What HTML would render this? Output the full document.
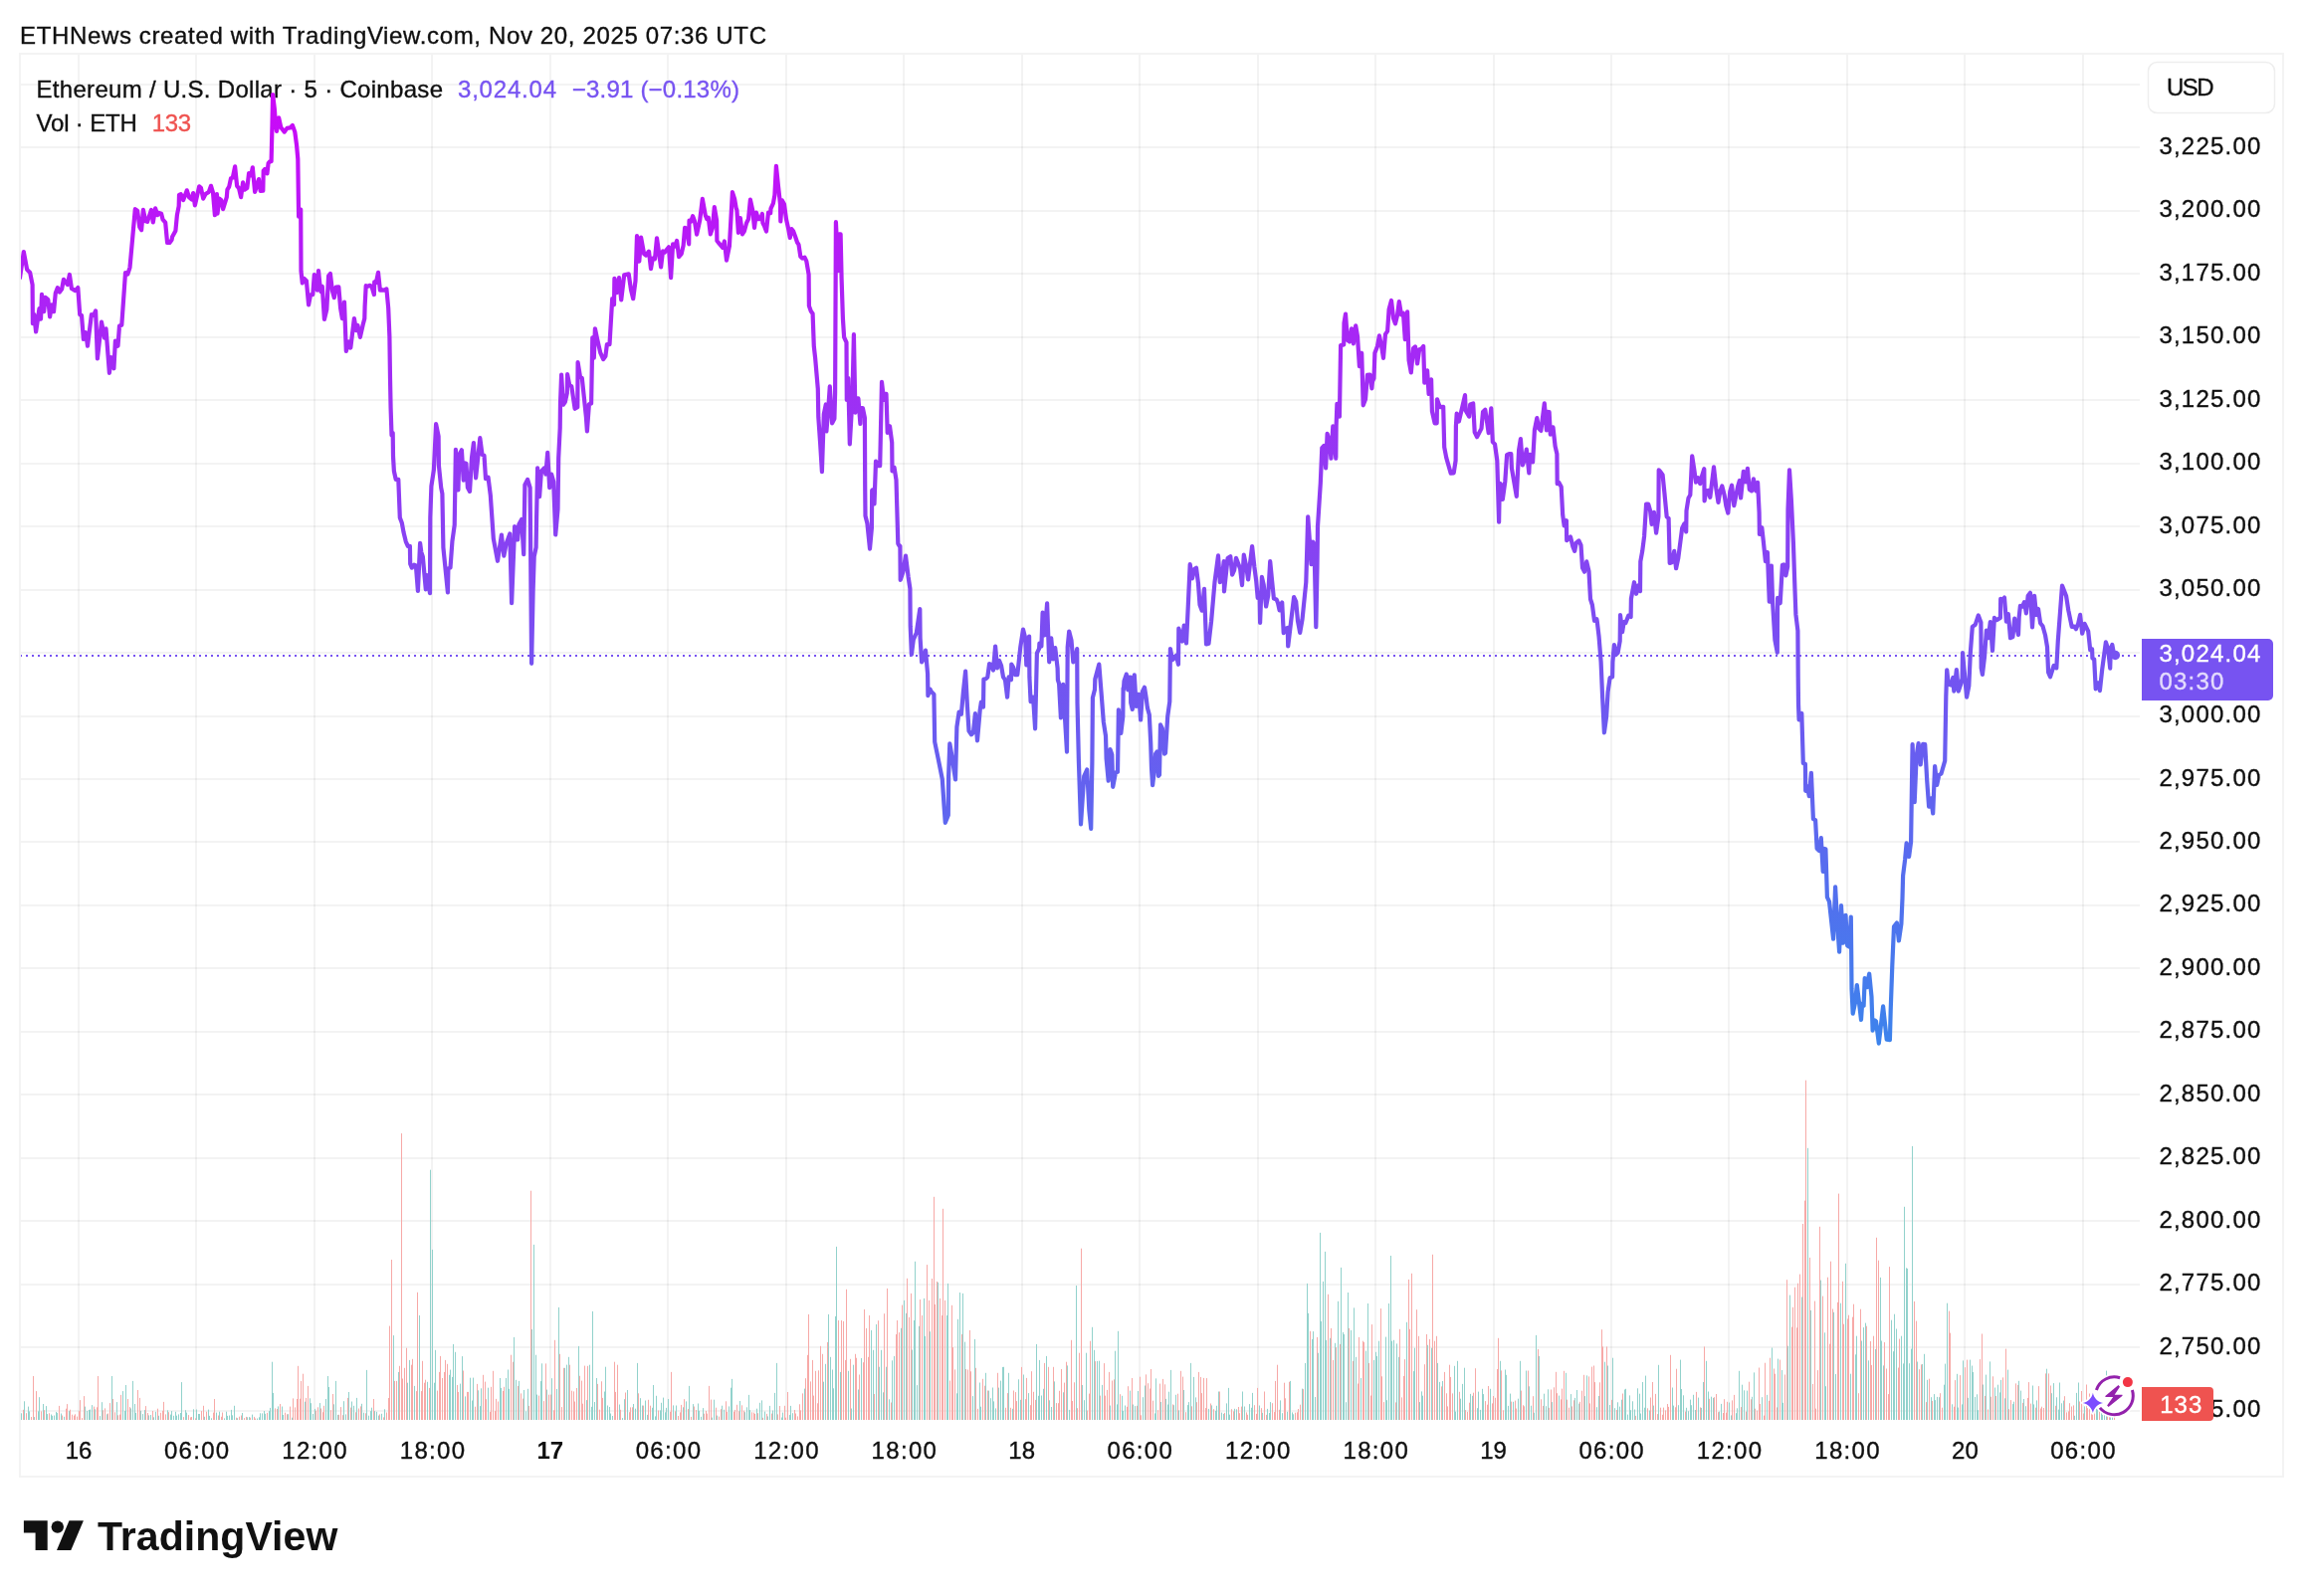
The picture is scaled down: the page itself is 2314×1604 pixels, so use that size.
<!DOCTYPE html>
<html lang="en"><head><meta charset="utf-8"><title>ETHUSD chart</title>
<style>html,body{margin:0;padding:0;background:#fff}svg{display:block;will-change:transform}text{font-family:"Liberation Sans",sans-serif}</style></head><body>
<svg width="2314" height="1604" viewBox="0 0 2314 1604">
<rect width="2314" height="1604" fill="#fff"/>
<defs><linearGradient id="lg" gradientUnits="userSpaceOnUse" x1="0" y1="98" x2="0" y2="1048"><stop offset="0" stop-color="#cb08f8"/><stop offset="1" stop-color="#3c83ec"/></linearGradient><clipPath id="cp"><rect x="21" y="55" width="2130" height="1373"/></clipPath></defs>
<path d="M79 54V1427M197 54V1427M316 54V1427M434 54V1427M553 54V1427M671 54V1427M790 54V1427M908 54V1427M1027 54V1427M1145 54V1427M1264 54V1427M1382 54V1427M1501 54V1427M1619 54V1427M1737 54V1427M1856 54V1427M1974 54V1427M2093 54V1427" stroke="#000" stroke-opacity="0.047" stroke-width="2" fill="none"/>
<path d="M20 85H2150M20 148H2150M20 212H2150M20 275H2150M20 339H2150M20 402H2150M20 466H2150M20 529H2150M20 593H2150M20 656H2150M20 720H2150M20 783H2150M20 846H2150M20 910H2150M20 973H2150M20 1037H2150M20 1100H2150M20 1164H2150M20 1227H2150M20 1291H2150M20 1354H2150M20 1418H2150" stroke="#000" stroke-opacity="0.047" stroke-width="2" fill="none"/>
<rect x="20" y="54" width="2274" height="1430" fill="none" stroke="#f3f3f3" stroke-width="2"/>
<path d="M21.5 1427V1420.3M24.5 1427V1408.3M28.5 1427V1413.6M29.5 1427V1418.4M34.5 1427V1424.1M38.5 1427V1418.3M39.5 1427V1404.2M43.5 1427V1411.0M46.5 1427V1413.1M47.5 1427V1421.1M51.5 1427V1421.5M52.5 1427V1422.8M54.5 1427V1422.5M56.5 1427V1419.0M57.5 1427V1419.9M61.5 1427V1420.5M64.5 1427V1423.8M69.5 1427V1418.1M85.5 1427V1413.6M87.5 1427V1418.0M89.5 1427V1417.0M90.5 1427V1416.5M92.5 1427V1412.1M95.5 1427V1416.3M100.5 1427V1423.1M102.5 1427V1409.2M107.5 1427V1421.3M112.5 1427V1383.0M117.5 1427V1409.1M123.5 1427V1398.1M125.5 1427V1417.9M126.5 1427V1392.0M131.5 1427V1415.4M133.5 1427V1387.9M135.5 1427V1411.0M136.5 1427V1419.9M141.5 1427V1417.8M143.5 1427V1421.1M145.5 1427V1417.1M149.5 1427V1422.4M151.5 1427V1422.0M154.5 1427V1424.3M156.5 1427V1418.8M159.5 1427V1422.8M168.5 1427V1417.3M171.5 1427V1421.6M172.5 1427V1418.1M174.5 1427V1422.8M176.5 1427V1418.8M177.5 1427V1422.7M179.5 1427V1421.4M181.5 1427V1420.0M182.5 1427V1389.1M186.5 1427V1417.2M187.5 1427V1419.6M194.5 1427V1416.3M197.5 1427V1416.5M199.5 1427V1421.0M200.5 1427V1421.0M205.5 1427V1423.8M209.5 1427V1416.6M210.5 1427V1422.9M212.5 1427V1425.3M217.5 1427V1419.6M220.5 1427V1418.7M225.5 1427V1425.4M227.5 1427V1418.7M228.5 1427V1422.9M230.5 1427V1422.5M232.5 1427V1416.9M233.5 1427V1422.3M235.5 1427V1412.8M238.5 1427V1425.2M243.5 1427V1420.0M248.5 1427V1424.3M250.5 1427V1424.1M253.5 1427V1421.6M258.5 1427V1425.5M260.5 1427V1424.3M261.5 1427V1420.3M263.5 1427V1420.4M265.5 1427V1418.0M266.5 1427V1420.8M270.5 1427V1418.1M271.5 1427V1414.9M273.5 1427V1368.7M274.5 1427V1399.9M279.5 1427V1413.4M283.5 1427V1413.5M284.5 1427V1422.0M289.5 1427V1421.2M293.5 1427V1424.7M306.5 1427V1408.7M311.5 1427V1405.3M312.5 1427V1410.2M314.5 1427V1421.0M316.5 1427V1415.9M321.5 1427V1410.1M327.5 1427V1406.0M329.5 1427V1383.0M330.5 1427V1394.0M335.5 1427V1411.3M337.5 1427V1387.9M339.5 1427V1421.9M345.5 1427V1408.2M347.5 1427V1421.4M350.5 1427V1399.0M353.5 1427V1408.5M355.5 1427V1412.8M358.5 1427V1404.9M363.5 1427V1410.8M365.5 1427V1419.7M368.5 1427V1376.9M370.5 1427V1422.7M372.5 1427V1418.1M373.5 1427V1414.7M376.5 1427V1418.1M378.5 1427V1418.8M380.5 1427V1422.6M383.5 1427V1420.8M386.5 1427V1416.3M395.5 1427V1342.1M400.5 1427V1378.9M409.5 1427V1389.7M411.5 1427V1366.9M416.5 1427V1392.9M421.5 1427V1322.0M429.5 1427V1388.8M432.5 1427V1175.7M434.5 1427V1255.9M436.5 1427V1389.7M437.5 1427V1356.8M451.5 1427V1381.8M452.5 1427V1376.6M454.5 1427V1383.9M455.5 1427V1350.9M457.5 1427V1358.8M462.5 1427V1390.6M464.5 1427V1363.1M467.5 1427V1403.4M472.5 1427V1384.7M474.5 1427V1407.5M475.5 1427V1384.6M480.5 1427V1397.3M482.5 1427V1413.1M483.5 1427V1395.3M490.5 1427V1394.7M502.5 1427V1385.0M503.5 1427V1394.9M508.5 1427V1385.0M510.5 1427V1376.5M511.5 1427V1395.8M516.5 1427V1343.9M518.5 1427V1386.8M521.5 1427V1387.9M526.5 1427V1397.0M528.5 1427V1418.3M530.5 1427V1395.8M534.5 1427V1336.0M536.5 1427V1250.9M538.5 1427V1361.7M539.5 1427V1401.6M543.5 1427V1388.1M544.5 1427V1370.3M549.5 1427V1396.6M554.5 1427V1385.2M559.5 1427V1396.0M561.5 1427V1313.9M567.5 1427V1374.8M569.5 1427V1371.6M571.5 1427V1363.8M581.5 1427V1352.9M589.5 1427V1407.1M592.5 1427V1371.7M594.5 1427V1413.8M595.5 1427V1317.9M597.5 1427V1409.0M599.5 1427V1385.0M607.5 1427V1398.5M608.5 1427V1373.7M610.5 1427V1412.5M612.5 1427V1414.0M613.5 1427V1420.5M615.5 1427V1423.0M622.5 1427V1411.5M625.5 1427V1425.1M627.5 1427V1406.2M630.5 1427V1397.0M636.5 1427V1411.0M638.5 1427V1415.7M640.5 1427V1369.9M643.5 1427V1405.2M645.5 1427V1412.5M648.5 1427V1407.5M650.5 1427V1421.9M655.5 1427V1414.8M656.5 1427V1392.0M658.5 1427V1423.4M659.5 1427V1402.8M663.5 1427V1417.4M664.5 1427V1409.8M666.5 1427V1404.6M668.5 1427V1419.3M669.5 1427V1414.9M671.5 1427V1406.0M676.5 1427V1412.4M679.5 1427V1412.5M686.5 1427V1414.3M689.5 1427V1408.4M692.5 1427V1392.9M696.5 1427V1411.1M701.5 1427V1410.5M702.5 1427V1417.8M704.5 1427V1423.8M706.5 1427V1415.1M715.5 1427V1424.6M717.5 1427V1406.7M720.5 1427V1422.6M725.5 1427V1412.7M727.5 1427V1416.7M732.5 1427V1413.4M734.5 1427V1394.7M735.5 1427V1385.9M743.5 1427V1408.0M748.5 1427V1419.2M750.5 1427V1414.3M752.5 1427V1401.9M753.5 1427V1417.1M760.5 1427V1415.7M763.5 1427V1409.8M765.5 1427V1407.4M768.5 1427V1418.6M771.5 1427V1423.4M773.5 1427V1412.9M776.5 1427V1417.5M778.5 1427V1399.9M780.5 1427V1369.9M785.5 1427V1424.5M786.5 1427V1419.6M793.5 1427V1421.9M794.5 1427V1412.9M796.5 1427V1420.2M808.5 1427V1395.6M827.5 1427V1388.7M829.5 1427V1370.8M832.5 1427V1320.9M834.5 1427V1363.8M836.5 1427V1376.5M837.5 1427V1395.3M839.5 1427V1322.9M840.5 1427V1252.9M844.5 1427V1378.9M852.5 1427V1377.8M855.5 1427V1415.5M857.5 1427V1371.7M862.5 1427V1396.5M865.5 1427V1365.0M875.5 1427V1336.9M877.5 1427V1356.8M880.5 1427V1331.0M883.5 1427V1373.7M885.5 1427V1356.8M887.5 1427V1399.3M890.5 1427V1373.7M893.5 1427V1406.3M896.5 1427V1367.3M898.5 1427V1362.9M905.5 1427V1334.8M908.5 1427V1306.9M910.5 1427V1319.8M916.5 1427V1356.5M918.5 1427V1327.0M919.5 1427V1267.8M921.5 1427V1392.1M923.5 1427V1332.8M928.5 1427V1304.9M929.5 1427V1342.8M934.5 1427V1338.2M942.5 1427V1288.8M951.5 1427V1322.0M952.5 1427V1289.9M961.5 1427V1400.3M962.5 1427V1325.8M964.5 1427V1299.0M967.5 1427V1299.9M969.5 1427V1348.6M977.5 1427V1403.1M979.5 1427V1345.9M984.5 1427V1389.5M985.5 1427V1413.7M990.5 1427V1379.8M993.5 1427V1397.6M995.5 1427V1405.2M997.5 1427V1394.5M998.5 1427V1408.4M1000.5 1427V1415.4M1003.5 1427V1394.6M1005.5 1427V1387.6M1007.5 1427V1373.9M1008.5 1427V1373.8M1013.5 1427V1379.8M1017.5 1427V1415.8M1023.5 1427V1386.3M1025.5 1427V1406.8M1028.5 1427V1381.5M1033.5 1427V1400.1M1041.5 1427V1350.9M1043.5 1427V1402.8M1044.5 1427V1366.9M1046.5 1427V1402.5M1048.5 1427V1395.8M1051.5 1427V1362.9M1054.5 1427V1407.3M1056.5 1427V1414.0M1059.5 1427V1388.4M1068.5 1427V1399.3M1072.5 1427V1372.4M1074.5 1427V1416.9M1081.5 1427V1292.0M1087.5 1427V1392.0M1089.5 1427V1407.2M1091.5 1427V1359.7M1097.5 1427V1333.8M1099.5 1427V1356.8M1102.5 1427V1367.9M1104.5 1427V1367.7M1107.5 1427V1391.9M1115.5 1427V1412.5M1120.5 1427V1357.7M1122.5 1427V1411.4M1123.5 1427V1337.8M1127.5 1427V1402.8M1128.5 1427V1417.9M1130.5 1427V1412.5M1135.5 1427V1397.6M1138.5 1427V1411.5M1140.5 1427V1413.1M1143.5 1427V1398.0M1148.5 1427V1404.2M1150.5 1427V1392.5M1160.5 1427V1420.4M1161.5 1427V1385.4M1166.5 1427V1409.0M1171.5 1427V1405.9M1173.5 1427V1411.5M1174.5 1427V1398.7M1176.5 1427V1376.9M1179.5 1427V1412.2M1181.5 1427V1401.8M1184.5 1427V1417.4M1189.5 1427V1397.0M1193.5 1427V1412.1M1194.5 1427V1409.1M1196.5 1427V1369.9M1199.5 1427V1383.9M1201.5 1427V1404.4M1214.5 1427V1415.9M1217.5 1427V1412.4M1221.5 1427V1417.9M1222.5 1427V1412.8M1224.5 1427V1398.5M1227.5 1427V1419.6M1229.5 1427V1420.9M1232.5 1427V1410.4M1234.5 1427V1394.9M1235.5 1427V1421.7M1240.5 1427V1415.8M1242.5 1427V1416.3M1248.5 1427V1398.5M1250.5 1427V1413.5M1255.5 1427V1411.1M1257.5 1427V1414.8M1258.5 1427V1399.9M1265.5 1427V1412.5M1268.5 1427V1419.8M1273.5 1427V1415.9M1275.5 1427V1420.0M1276.5 1427V1409.1M1286.5 1427V1407.4M1288.5 1427V1420.2M1293.5 1427V1418.8M1296.5 1427V1387.9M1298.5 1427V1419.4M1299.5 1427V1421.3M1308.5 1427V1395.6M1311.5 1427V1369.9M1313.5 1427V1289.9M1314.5 1427V1319.8M1318.5 1427V1345.9M1319.5 1427V1338.1M1321.5 1427V1404.0M1324.5 1427V1359.7M1326.5 1427V1238.9M1327.5 1427V1327.9M1329.5 1427V1287.9M1331.5 1427V1257.9M1332.5 1427V1346.8M1336.5 1427V1344.8M1341.5 1427V1349.8M1344.5 1427V1307.8M1347.5 1427V1273.9M1349.5 1427V1338.9M1350.5 1427V1341.0M1352.5 1427V1409.2M1354.5 1427V1299.0M1357.5 1427V1336.9M1360.5 1427V1314.4M1362.5 1427V1363.8M1367.5 1427V1385.0M1372.5 1427V1357.6M1374.5 1427V1310.0M1380.5 1427V1366.9M1382.5 1427V1358.8M1383.5 1427V1362.9M1385.5 1427V1347.7M1392.5 1427V1343.6M1393.5 1427V1407.2M1395.5 1427V1310.0M1397.5 1427V1262.0M1398.5 1427V1347.7M1400.5 1427V1346.8M1403.5 1427V1350.4M1405.5 1427V1363.8M1413.5 1427V1328.8M1420.5 1427V1378.1M1421.5 1427V1354.7M1426.5 1427V1409.1M1428.5 1427V1398.4M1429.5 1427V1402.7M1434.5 1427V1351.8M1438.5 1427V1354.7M1444.5 1427V1369.9M1446.5 1427V1388.9M1449.5 1427V1388.0M1461.5 1427V1372.8M1462.5 1427V1418.6M1464.5 1427V1367.8M1467.5 1427V1405.7M1469.5 1427V1390.9M1471.5 1427V1374.7M1477.5 1427V1400.9M1479.5 1427V1402.8M1484.5 1427V1415.2M1485.5 1427V1398.6M1487.5 1427V1416.9M1489.5 1427V1395.8M1490.5 1427V1401.1M1497.5 1427V1395.8M1507.5 1427V1367.8M1512.5 1427V1376.5M1513.5 1427V1381.8M1515.5 1427V1412.9M1517.5 1427V1400.6M1520.5 1427V1408.8M1525.5 1427V1405.7M1527.5 1427V1367.8M1533.5 1427V1377.5M1536.5 1427V1393.3M1538.5 1427V1412.7M1541.5 1427V1419.7M1543.5 1427V1341.9M1546.5 1427V1362.9M1551.5 1427V1400.7M1553.5 1427V1413.2M1555.5 1427V1396.3M1559.5 1427V1409.1M1566.5 1427V1402.6M1573.5 1427V1379.8M1578.5 1427V1401.1M1582.5 1427V1404.9M1584.5 1427V1397.0M1586.5 1427V1410.6M1592.5 1427V1403.1M1594.5 1427V1382.4M1604.5 1427V1414.2M1606.5 1427V1403.0M1612.5 1427V1368.7M1615.5 1427V1372.5M1617.5 1427V1412.0M1620.5 1427V1364.7M1622.5 1427V1415.2M1625.5 1427V1409.3M1627.5 1427V1413.6M1629.5 1427V1406.7M1632.5 1427V1396.5M1633.5 1427V1395.8M1635.5 1427V1421.6M1637.5 1427V1402.4M1638.5 1427V1417.2M1640.5 1427V1408.3M1642.5 1427V1416.5M1645.5 1427V1395.3M1647.5 1427V1400.7M1648.5 1427V1420.5M1650.5 1427V1389.0M1652.5 1427V1414.7M1653.5 1427V1382.6M1657.5 1427V1417.5M1661.5 1427V1412.6M1666.5 1427V1371.8M1680.5 1427V1394.5M1681.5 1427V1412.6M1686.5 1427V1412.2M1688.5 1427V1366.6M1689.5 1427V1396.0M1691.5 1427V1402.3M1694.5 1427V1414.8M1696.5 1427V1418.2M1698.5 1427V1406.6M1699.5 1427V1412.2M1701.5 1427V1401.8M1703.5 1427V1417.0M1706.5 1427V1404.6M1709.5 1427V1414.9M1711.5 1427V1389.0M1714.5 1427V1367.8M1716.5 1427V1398.5M1719.5 1427V1403.7M1721.5 1427V1404.9M1727.5 1427V1418.6M1729.5 1427V1410.9M1737.5 1427V1409.5M1739.5 1427V1422.4M1744.5 1427V1420.2M1745.5 1427V1415.3M1747.5 1427V1377.8M1750.5 1427V1391.7M1752.5 1427V1397.3M1755.5 1427V1397.6M1760.5 1427V1403.8M1762.5 1427V1379.4M1770.5 1427V1404.2M1775.5 1427V1401.9M1780.5 1427V1354.5M1786.5 1427V1365.6M1790.5 1427V1377.0M1791.5 1427V1409.8M1796.5 1427V1352.7M1798.5 1427V1301.6M1810.5 1427V1303.5M1816.5 1427V1153.8M1819.5 1427V1316.9M1829.5 1427V1286.6M1833.5 1427V1339.3M1834.5 1427V1393.2M1842.5 1427V1318.8M1844.5 1427V1381.0M1849.5 1427V1309.7M1854.5 1427V1269.8M1859.5 1427V1380.7M1864.5 1427V1361.3M1865.5 1427V1342.7M1870.5 1427V1347.5M1872.5 1427V1334.1M1874.5 1427V1329.6M1877.5 1427V1367.3M1884.5 1427V1355.9M1889.5 1427V1283.9M1890.5 1427V1347.5M1892.5 1427V1372.4M1900.5 1427V1326.7M1902.5 1427V1358.2M1903.5 1427V1320.7M1905.5 1427V1335.5M1910.5 1427V1342.7M1912.5 1427V1370.4M1913.5 1427V1212.8M1915.5 1427V1274.3M1916.5 1427V1274.9M1918.5 1427V1370.2M1920.5 1427V1355.6M1921.5 1427V1151.9M1926.5 1427V1368.5M1931.5 1427V1371.0M1933.5 1427V1360.8M1936.5 1427V1386.8M1940.5 1427V1404.2M1943.5 1427V1401.1M1944.5 1427V1407.1M1946.5 1427V1403.9M1948.5 1427V1404.2M1953.5 1427V1391.7M1954.5 1427V1370.6M1956.5 1427V1309.7M1961.5 1427V1411.3M1966.5 1427V1380.8M1967.5 1427V1414.5M1971.5 1427V1411.4M1972.5 1427V1367.4M1977.5 1427V1404.8M1979.5 1427V1366.6M1981.5 1427V1372.5M1982.5 1427V1379.0M1984.5 1427V1404.0M1986.5 1427V1401.3M1987.5 1427V1417.2M1992.5 1427V1391.5M1995.5 1427V1381.6M1999.5 1427V1368.4M2004.5 1427V1394.5M2007.5 1427V1391.7M2009.5 1427V1399.4M2010.5 1427V1386.9M2014.5 1427V1405.3M2017.5 1427V1376.6M2022.5 1427V1411.1M2023.5 1427V1408.7M2028.5 1427V1387.8M2030.5 1427V1397.6M2033.5 1427V1406.0M2035.5 1427V1413.2M2042.5 1427V1392.5M2043.5 1427V1411.4M2046.5 1427V1407.4M2056.5 1427V1375.7M2061.5 1427V1400.2M2063.5 1427V1390.1M2066.5 1427V1404.3M2068.5 1427V1416.6M2069.5 1427V1389.5M2071.5 1427V1410.3M2073.5 1427V1407.6M2084.5 1427V1422.8M2086.5 1427V1399.9M2088.5 1427V1389.5M2094.5 1427V1413.4M2106.5 1427V1413.9M2107.5 1427V1414.9M2111.5 1427V1392.0M2112.5 1427V1421.8M2114.5 1427V1410.0M2116.5 1427V1377.6M2120.5 1427V1415.2M2122.5 1427V1416.2" stroke="#92d2cc" stroke-width="1" fill="none"/>
<path d="M23.5 1427V1416.8M26.5 1427V1420.2M31.5 1427V1424.0M33.5 1427V1383.0M36.5 1427V1398.1M41.5 1427V1418.4M44.5 1427V1417.2M49.5 1427V1420.3M59.5 1427V1412.9M62.5 1427V1422.5M66.5 1427V1415.7M67.5 1427V1411.1M70.5 1427V1416.7M72.5 1427V1421.7M74.5 1427V1422.6M75.5 1427V1421.3M77.5 1427V1423.6M79.5 1427V1418.2M80.5 1427V1407.1M82.5 1427V1425.1M84.5 1427V1403.1M94.5 1427V1413.6M97.5 1427V1414.3M98.5 1427V1383.0M103.5 1427V1417.3M105.5 1427V1415.4M108.5 1427V1420.5M110.5 1427V1410.1M113.5 1427V1406.0M115.5 1427V1419.3M118.5 1427V1422.3M120.5 1427V1421.6M121.5 1427V1401.9M128.5 1427V1406.0M130.5 1427V1414.1M138.5 1427V1397.0M140.5 1427V1404.9M146.5 1427V1413.1M148.5 1427V1420.0M153.5 1427V1418.0M158.5 1427V1415.7M161.5 1427V1419.8M163.5 1427V1417.8M164.5 1427V1408.9M166.5 1427V1421.4M169.5 1427V1419.2M184.5 1427V1424.1M189.5 1427V1422.1M191.5 1427V1424.4M192.5 1427V1424.0M196.5 1427V1425.4M202.5 1427V1418.1M204.5 1427V1412.8M207.5 1427V1418.7M214.5 1427V1419.6M215.5 1427V1406.0M219.5 1427V1422.5M222.5 1427V1423.8M223.5 1427V1419.5M237.5 1427V1424.7M240.5 1427V1423.7M242.5 1427V1422.5M245.5 1427V1425.1M247.5 1427V1423.9M251.5 1427V1424.7M255.5 1427V1423.9M256.5 1427V1425.5M268.5 1427V1419.9M276.5 1427V1415.4M278.5 1427V1416.0M281.5 1427V1411.0M286.5 1427V1419.7M288.5 1427V1421.3M291.5 1427V1413.6M294.5 1427V1405.4M296.5 1427V1414.4M298.5 1427V1406.0M299.5 1427V1372.8M301.5 1427V1405.7M302.5 1427V1387.9M304.5 1427V1380.7M307.5 1427V1404.9M309.5 1427V1392.9M317.5 1427V1417.7M319.5 1427V1414.3M322.5 1427V1415.5M324.5 1427V1419.2M325.5 1427V1412.8M332.5 1427V1417.2M334.5 1427V1401.0M340.5 1427V1421.8M342.5 1427V1414.1M344.5 1427V1422.2M349.5 1427V1404.9M352.5 1427V1414.6M357.5 1427V1419.3M360.5 1427V1415.5M362.5 1427V1413.4M367.5 1427V1420.3M375.5 1427V1406.0M381.5 1427V1421.4M385.5 1427V1424.4M388.5 1427V1419.5M390.5 1427V1405.0M391.5 1427V1332.6M393.5 1427V1266.0M396.5 1427V1387.9M398.5 1427V1387.9M401.5 1427V1372.8M403.5 1427V1139.1M404.5 1427V1385.5M406.5 1427V1374.8M408.5 1427V1354.7M413.5 1427V1371.7M414.5 1427V1365.8M418.5 1427V1398.1M419.5 1427V1298.8M423.5 1427V1398.1M424.5 1427V1367.8M426.5 1427V1389.7M427.5 1427V1386.7M431.5 1427V1394.9M439.5 1427V1397.6M441.5 1427V1378.9M442.5 1427V1362.9M444.5 1427V1385.0M446.5 1427V1378.9M447.5 1427V1366.9M449.5 1427V1370.8M459.5 1427V1392.0M460.5 1427V1399.0M465.5 1427V1377.5M469.5 1427V1398.9M470.5 1427V1398.9M477.5 1427V1413.7M479.5 1427V1390.9M485.5 1427V1381.8M487.5 1427V1388.6M488.5 1427V1406.2M492.5 1427V1418.9M493.5 1427V1393.8M495.5 1427V1377.8M497.5 1427V1418.1M498.5 1427V1405.9M500.5 1427V1408.5M505.5 1427V1398.0M506.5 1427V1393.8M513.5 1427V1361.7M515.5 1427V1368.7M520.5 1427V1392.9M523.5 1427V1400.4M525.5 1427V1405.6M531.5 1427V1412.9M533.5 1427V1196.7M541.5 1427V1402.6M546.5 1427V1408.1M548.5 1427V1370.4M551.5 1427V1401.7M553.5 1427V1401.6M556.5 1427V1417.3M557.5 1427V1346.8M562.5 1427V1360.8M564.5 1427V1414.1M566.5 1427V1374.8M572.5 1427V1371.7M574.5 1427V1397.7M576.5 1427V1398.4M577.5 1427V1408.5M579.5 1427V1395.0M582.5 1427V1382.8M584.5 1427V1387.6M585.5 1427V1410.7M587.5 1427V1372.6M590.5 1427V1372.8M600.5 1427V1390.9M602.5 1427V1416.7M604.5 1427V1388.3M605.5 1427V1404.9M617.5 1427V1368.7M618.5 1427V1398.9M620.5 1427V1371.7M623.5 1427V1416.8M628.5 1427V1399.5M632.5 1427V1419.2M633.5 1427V1414.4M635.5 1427V1414.3M641.5 1427V1400.3M646.5 1427V1412.6M651.5 1427V1406.8M653.5 1427V1412.7M661.5 1427V1417.5M673.5 1427V1418.8M674.5 1427V1378.9M678.5 1427V1418.3M681.5 1427V1423.0M683.5 1427V1419.4M684.5 1427V1411.9M687.5 1427V1406.2M691.5 1427V1416.1M694.5 1427V1423.9M697.5 1427V1413.5M699.5 1427V1417.1M707.5 1427V1420.7M709.5 1427V1418.0M710.5 1427V1420.6M712.5 1427V1392.9M714.5 1427V1406.6M719.5 1427V1414.7M722.5 1427V1423.6M724.5 1427V1416.2M729.5 1427V1408.3M730.5 1427V1418.9M737.5 1427V1418.7M738.5 1427V1416.9M740.5 1427V1411.8M742.5 1427V1418.2M745.5 1427V1412.3M747.5 1427V1417.7M755.5 1427V1419.3M757.5 1427V1419.6M758.5 1427V1420.9M761.5 1427V1420.2M766.5 1427V1424.8M770.5 1427V1420.9M775.5 1427V1420.6M781.5 1427V1421.4M783.5 1427V1413.0M788.5 1427V1412.8M789.5 1427V1424.7M791.5 1427V1399.0M798.5 1427V1417.0M799.5 1427V1420.5M801.5 1427V1423.4M803.5 1427V1411.3M804.5 1427V1417.4M806.5 1427V1400.4M809.5 1427V1385.2M811.5 1427V1361.8M812.5 1427V1320.9M814.5 1427V1388.4M816.5 1427V1366.9M817.5 1427V1402.6M819.5 1427V1377.8M821.5 1427V1410.3M822.5 1427V1377.3M824.5 1427V1352.8M826.5 1427V1360.8M831.5 1427V1348.9M842.5 1427V1327.0M845.5 1427V1327.0M847.5 1427V1327.9M849.5 1427V1366.9M850.5 1427V1295.8M854.5 1427V1365.8M859.5 1427V1360.8M860.5 1427V1364.7M863.5 1427V1381.5M867.5 1427V1369.2M868.5 1427V1315.9M870.5 1427V1334.9M872.5 1427V1363.8M873.5 1427V1322.0M878.5 1427V1401.0M882.5 1427V1327.2M888.5 1427V1320.2M891.5 1427V1294.9M895.5 1427V1409.5M900.5 1427V1341.0M901.5 1427V1327.0M903.5 1427V1339.1M906.5 1427V1311.6M911.5 1427V1284.8M913.5 1427V1323.8M915.5 1427V1299.9M924.5 1427V1306.0M926.5 1427V1322.0M931.5 1427V1271.1M933.5 1427V1306.9M936.5 1427V1285.0M938.5 1427V1202.8M939.5 1427V1310.9M941.5 1427V1287.9M944.5 1427V1304.9M946.5 1427V1322.0M947.5 1427V1214.8M949.5 1427V1306.9M954.5 1427V1387.5M956.5 1427V1311.8M957.5 1427V1354.1M959.5 1427V1376.4M966.5 1427V1341.0M970.5 1427V1376.0M972.5 1427V1376.5M974.5 1427V1336.9M975.5 1427V1378.3M980.5 1427V1374.8M982.5 1427V1415.8M987.5 1427V1385.8M989.5 1427V1392.7M992.5 1427V1397.5M1002.5 1427V1379.8M1010.5 1427V1414.8M1012.5 1427V1400.1M1015.5 1427V1414.8M1018.5 1427V1397.5M1020.5 1427V1399.1M1021.5 1427V1408.1M1026.5 1427V1373.9M1030.5 1427V1406.2M1031.5 1427V1384.9M1035.5 1427V1412.2M1036.5 1427V1378.2M1038.5 1427V1398.8M1040.5 1427V1406.9M1049.5 1427V1369.9M1053.5 1427V1373.8M1058.5 1427V1373.8M1061.5 1427V1410.1M1063.5 1427V1410.2M1064.5 1427V1397.8M1066.5 1427V1376.0M1069.5 1427V1389.6M1071.5 1427V1368.7M1076.5 1427V1346.8M1077.5 1427V1408.0M1079.5 1427V1389.3M1082.5 1427V1415.2M1084.5 1427V1359.7M1086.5 1427V1254.7M1092.5 1427V1417.5M1094.5 1427V1400.6M1095.5 1427V1347.7M1100.5 1427V1368.1M1105.5 1427V1402.6M1109.5 1427V1370.1M1110.5 1427V1402.6M1112.5 1427V1396.9M1114.5 1427V1378.9M1117.5 1427V1387.5M1119.5 1427V1386.4M1125.5 1427V1401.2M1132.5 1427V1413.8M1133.5 1427V1393.2M1137.5 1427V1385.0M1142.5 1427V1412.8M1145.5 1427V1383.7M1146.5 1427V1422.3M1151.5 1427V1381.4M1153.5 1427V1390.2M1155.5 1427V1395.5M1156.5 1427V1376.0M1158.5 1427V1407.7M1163.5 1427V1417.2M1165.5 1427V1390.6M1168.5 1427V1385.9M1170.5 1427V1391.3M1178.5 1427V1411.4M1183.5 1427V1400.7M1186.5 1427V1377.8M1188.5 1427V1383.6M1191.5 1427V1419.2M1197.5 1427V1413.3M1202.5 1427V1409.2M1204.5 1427V1378.9M1206.5 1427V1383.9M1207.5 1427V1400.1M1209.5 1427V1384.9M1211.5 1427V1415.1M1212.5 1427V1385.1M1216.5 1427V1410.5M1219.5 1427V1416.2M1225.5 1427V1398.5M1230.5 1427V1419.9M1237.5 1427V1416.2M1239.5 1427V1418.4M1244.5 1427V1414.0M1245.5 1427V1420.2M1247.5 1427V1413.6M1252.5 1427V1419.4M1253.5 1427V1421.8M1260.5 1427V1412.2M1262.5 1427V1420.9M1263.5 1427V1394.9M1267.5 1427V1415.2M1270.5 1427V1398.5M1272.5 1427V1421.9M1278.5 1427V1410.2M1280.5 1427V1419.1M1281.5 1427V1387.9M1283.5 1427V1371.7M1285.5 1427V1416.8M1290.5 1427V1389.7M1291.5 1427V1405.3M1295.5 1427V1388.8M1301.5 1427V1419.7M1303.5 1427V1419.3M1304.5 1427V1416.0M1306.5 1427V1411.7M1309.5 1427V1396.1M1316.5 1427V1337.8M1323.5 1427V1343.9M1334.5 1427V1300.8M1337.5 1427V1334.9M1339.5 1427V1366.9M1342.5 1427V1354.1M1346.5 1427V1350.9M1355.5 1427V1334.9M1359.5 1427V1367.8M1364.5 1427V1390.5M1365.5 1427V1343.9M1369.5 1427V1347.7M1370.5 1427V1348.9M1375.5 1427V1369.9M1377.5 1427V1402.5M1378.5 1427V1331.1M1387.5 1427V1315.1M1388.5 1427V1383.3M1390.5 1427V1409.1M1402.5 1427V1409.4M1406.5 1427V1335.8M1408.5 1427V1404.4M1410.5 1427V1382.9M1411.5 1427V1366.1M1415.5 1427V1285.9M1416.5 1427V1335.8M1418.5 1427V1279.8M1423.5 1427V1316.2M1425.5 1427V1342.8M1431.5 1427V1371.2M1433.5 1427V1341.0M1436.5 1427V1345.9M1439.5 1427V1260.8M1441.5 1427V1347.7M1443.5 1427V1342.8M1448.5 1427V1393.4M1451.5 1427V1378.9M1453.5 1427V1400.3M1454.5 1427V1413.4M1456.5 1427V1371.7M1457.5 1427V1383.9M1459.5 1427V1400.4M1466.5 1427V1398.8M1472.5 1427V1417.1M1474.5 1427V1418.9M1476.5 1427V1409.7M1480.5 1427V1399.7M1482.5 1427V1375.2M1492.5 1427V1408.1M1494.5 1427V1411.7M1495.5 1427V1393.0M1499.5 1427V1410.4M1500.5 1427V1403.0M1502.5 1427V1404.8M1504.5 1427V1376.0M1505.5 1427V1344.8M1508.5 1427V1377.4M1510.5 1427V1417.3M1518.5 1427V1408.6M1522.5 1427V1407.6M1523.5 1427V1415.5M1528.5 1427V1397.6M1530.5 1427V1412.2M1531.5 1427V1413.3M1535.5 1427V1377.5M1540.5 1427V1403.2M1545.5 1427V1355.9M1548.5 1427V1406.3M1550.5 1427V1412.9M1556.5 1427V1414.8M1558.5 1427V1396.5M1561.5 1427V1394.3M1563.5 1427V1378.8M1564.5 1427V1400.2M1568.5 1427V1406.4M1569.5 1427V1395.6M1571.5 1427V1377.8M1574.5 1427V1406.7M1576.5 1427V1414.7M1579.5 1427V1413.4M1581.5 1427V1407.3M1587.5 1427V1408.8M1589.5 1427V1397.7M1591.5 1427V1381.8M1596.5 1427V1383.4M1597.5 1427V1410.4M1599.5 1427V1373.6M1601.5 1427V1372.5M1602.5 1427V1389.1M1607.5 1427V1389.3M1609.5 1427V1336.2M1610.5 1427V1353.4M1614.5 1427V1353.4M1619.5 1427V1406.9M1624.5 1427V1417.0M1630.5 1427V1400.5M1643.5 1427V1422.9M1655.5 1427V1415.3M1658.5 1427V1404.5M1660.5 1427V1389.0M1663.5 1427V1400.9M1665.5 1427V1421.1M1668.5 1427V1414.7M1670.5 1427V1421.8M1671.5 1427V1414.6M1673.5 1427V1417.4M1675.5 1427V1411.0M1676.5 1427V1413.9M1678.5 1427V1361.8M1683.5 1427V1414.3M1684.5 1427V1375.7M1693.5 1427V1418.6M1704.5 1427V1398.9M1708.5 1427V1414.4M1712.5 1427V1353.4M1717.5 1427V1405.8M1722.5 1427V1404.2M1724.5 1427V1401.0M1726.5 1427V1419.2M1731.5 1427V1420.0M1732.5 1427V1406.2M1734.5 1427V1419.6M1735.5 1427V1408.8M1740.5 1427V1407.4M1742.5 1427V1401.9M1749.5 1427V1414.1M1754.5 1427V1418.6M1757.5 1427V1388.7M1759.5 1427V1406.3M1763.5 1427V1415.7M1765.5 1427V1417.6M1767.5 1427V1374.5M1768.5 1427V1411.0M1772.5 1427V1422.6M1773.5 1427V1369.7M1777.5 1427V1407.8M1778.5 1427V1364.7M1782.5 1427V1375.5M1783.5 1427V1380.7M1785.5 1427V1414.4M1788.5 1427V1366.6M1793.5 1427V1381.5M1795.5 1427V1286.2M1800.5 1427V1333.6M1801.5 1427V1313.8M1803.5 1427V1293.7M1805.5 1427V1334.3M1806.5 1427V1289.7M1808.5 1427V1280.6M1811.5 1427V1230.0M1813.5 1427V1206.6M1814.5 1427V1085.7M1818.5 1427V1263.9M1821.5 1427V1391.0M1823.5 1427V1307.6M1824.5 1427V1415.6M1826.5 1427V1377.1M1828.5 1427V1232.8M1831.5 1427V1302.6M1836.5 1427V1283.7M1838.5 1427V1350.6M1839.5 1427V1267.7M1841.5 1427V1315.5M1846.5 1427V1308.8M1847.5 1427V1199.6M1851.5 1427V1287.8M1852.5 1427V1330.7M1856.5 1427V1325.5M1857.5 1427V1321.7M1861.5 1427V1323.6M1862.5 1427V1310.7M1867.5 1427V1400.2M1869.5 1427V1315.7M1875.5 1427V1332.7M1879.5 1427V1348.0M1880.5 1427V1371.9M1882.5 1427V1342.7M1885.5 1427V1243.8M1887.5 1427V1266.7M1893.5 1427V1349.0M1895.5 1427V1375.5M1897.5 1427V1401.1M1898.5 1427V1273.1M1907.5 1427V1374.5M1908.5 1427V1345.6M1923.5 1427V1307.9M1925.5 1427V1327.6M1928.5 1427V1376.2M1930.5 1427V1371.4M1935.5 1427V1409.1M1938.5 1427V1385.7M1941.5 1427V1407.9M1949.5 1427V1400.2M1951.5 1427V1414.7M1958.5 1427V1317.6M1959.5 1427V1339.6M1963.5 1427V1413.7M1964.5 1427V1387.1M1969.5 1427V1382.1M1974.5 1427V1374.2M1976.5 1427V1366.6M1989.5 1427V1366.1M1991.5 1427V1340.5M1994.5 1427V1402.9M1997.5 1427V1416.5M2000.5 1427V1403.7M2002.5 1427V1383.3M2005.5 1427V1403.0M2012.5 1427V1384.4M2015.5 1427V1355.6M2018.5 1427V1416.2M2020.5 1427V1407.1M2025.5 1427V1390.4M2027.5 1427V1392.0M2032.5 1427V1409.9M2037.5 1427V1404.9M2038.5 1427V1389.1M2040.5 1427V1410.6M2045.5 1427V1414.7M2048.5 1427V1393.1M2050.5 1427V1415.5M2051.5 1427V1413.7M2053.5 1427V1415.0M2055.5 1427V1380.4M2058.5 1427V1380.4M2060.5 1427V1392.5M2065.5 1427V1412.8M2074.5 1427V1403.2M2076.5 1427V1419.4M2078.5 1427V1418.4M2079.5 1427V1410.2M2081.5 1427V1413.5M2083.5 1427V1412.4M2089.5 1427V1408.5M2091.5 1427V1398.0M2093.5 1427V1420.5M2096.5 1427V1391.5M2097.5 1427V1415.2M2099.5 1427V1400.5M2101.5 1427V1406.0M2102.5 1427V1413.7M2104.5 1427V1417.0M2109.5 1427V1399.6M2117.5 1427V1414.2M2119.5 1427V1395.9M2124.5 1427V1404.9" stroke="#f7a9a7" stroke-width="1" fill="none"/>
<text x="36.5" y="98" font-size="24" fill="#0f0f0f" stroke="#0f0f0f" stroke-width="0.35" textLength="408.5" lengthAdjust="spacing">Ethereum / U.S. Dollar · 5 · Coinbase</text>
<text x="460" y="98" font-size="24" fill="#7753f1" stroke="#7753f1" stroke-width="0.35" textLength="99" lengthAdjust="spacing">3,024.04</text>
<text x="574.7" y="98" font-size="24" fill="#7753f1" stroke="#7753f1" stroke-width="0.35" textLength="168.3" lengthAdjust="spacing">−3.91 (−0.13%)</text>
<text x="36.5" y="132" font-size="24" fill="#0f0f0f" stroke="#0f0f0f" stroke-width="0.35" textLength="101.3" lengthAdjust="spacing">Vol · ETH</text>
<text x="152.8" y="132" font-size="24" fill="#ef5350" stroke="#ef5350" stroke-width="0.35" textLength="39.2" lengthAdjust="spacing">133</text>
<path d="M21 659H2148" stroke="#7753f1" stroke-width="2" stroke-dasharray="2 4" stroke-dashoffset="1" fill="none"/>
<path d="M20.0 279.3 L23.8 253.0 L27.2 271.1 L30.2 274.1 L32.6 286.1 L32.9 325.2 L34.3 316.2 L36.1 333.5 L39.5 310.1 L41.0 320.7 L42.0 295.9 L44.1 313.2 L45.6 298.9 L48.3 301.1 L50.1 318.4 L51.9 306.4 L54.0 313.2 L55.8 294.4 L57.9 289.1 L59.9 293.6 L62.1 290.6 L63.9 280.8 L67.8 286.1 L69.9 276.0 L71.9 289.9 L75.6 292.1 L78.3 289.1 L80.2 316.2 L82.0 316.9 L83.9 341.0 L86.2 334.2 L88.0 347.7 L91.9 316.2 L94.0 316.9 L96.1 312.4 L97.9 360.5 L102.0 323.7 L105.0 339.5 L106.5 330.4 L109.9 374.8 L111.7 359.0 L114.4 370.3 L115.9 342.5 L118.5 347.7 L120.0 327.4 L122.3 326.7 L126.0 274.1 L128.3 275.6 L130.5 268.8 L135.8 210.2 L138.1 211.7 L140.3 228.2 L142.1 231.2 L143.9 210.9 L146.3 222.2 L148.1 222.9 L152.0 210.9 L153.8 223.4 L156.1 209.4 L158.3 216.2 L159.8 213.9 L162.1 214.7 L163.6 220.7 L166.2 223.7 L168.1 244.0 L170.4 244.0 L172.6 241.0 L173.1 238.0 L176.4 231.9 L177.9 216.2 L179.7 207.1 L180.0 195.9 L181.7 195.1 L184.2 201.1 L187.8 191.3 L189.9 198.1 L192.6 200.4 L194.1 194.1 L195.9 206.4 L200.2 187.3 L201.9 188.8 L204.2 199.6 L206.5 195.1 L209.8 192.9 L212.0 186.8 L214.0 193.6 L215.9 216.2 L217.9 195.1 L218.5 214.7 L220.4 199.6 L222.3 201.1 L224.1 210.2 L227.8 198.1 L228.4 190.6 L230.2 187.6 L232.0 179.3 L233.8 178.6 L236.1 167.3 L238.1 186.8 L240.0 189.1 L242.1 198.1 L244.1 183.4 L246.0 190.6 L248.3 189.1 L250.1 174.1 L252.3 176.3 L253.8 168.3 L256.1 192.9 L260.0 180.1 L261.7 192.0 L264.3 191.6 L264.7 171.7 L266.2 169.9 L268.4 174.4 L269.6 164.2 L271.1 162.4 L272.6 162.1 L273.5 125.1 L274.1 95.0 L275.9 110.1 L276.8 123.6 L278.0 131.9 L280.1 118.3 L282.3 128.1 L285.8 132.6 L288.4 128.9 L291.4 128.4 L293.9 125.9 L296.3 132.6 L298.1 146.2 L299.3 159.7 L300.1 217.6 L302.2 210.5 L302.5 272.5 L303.8 284.5 L305.6 280.0 L307.9 282.3 L310.1 306.3 L312.0 296.4 L314.3 296.1 L315.8 276.2 L317.7 278.8 L318.8 291.6 L320.0 272.0 L321.8 290.1 L322.6 293.1 L323.8 287.8 L325.9 320.9 L328.3 311.1 L330.1 277.3 L331.9 275.0 L333.8 291.6 L335.8 299.1 L337.6 288.6 L340.3 288.3 L342.1 309.6 L343.9 320.1 L344.8 319.9 L346.0 303.6 L347.8 352.9 L350.4 343.5 L352.3 349.5 L355.9 320.1 L357.9 332.2 L359.4 326.9 L361.9 338.9 L364.7 326.2 L366.3 320.1 L366.6 308.1 L367.7 287.1 L369.5 287.8 L371.9 286.8 L373.7 288.6 L375.9 296.1 L376.2 283.3 L377.9 284.1 L380.0 273.8 L381.9 291.6 L384.2 291.3 L386.5 291.6 L388.4 290.4 L390.2 309.6 L391.4 338.2 L392.0 380.3 L392.6 410.4 L393.5 437.4 L394.7 435.2 L395.0 458.5 L395.9 473.5 L397.7 481.8 L400.3 481.9 L401.8 520.2 L403.8 525.5 L405.6 535.3 L407.8 544.3 L409.8 548.8 L411.9 548.8 L412.2 566.8 L413.8 570.6 L416.1 567.6 L417.9 568.4 L419.9 593.9 L422.1 545.8 L423.3 554.8 L424.8 559.3 L427.8 592.4 L428.9 578.1 L432.0 596.2 L432.3 520.2 L433.4 488.6 L435.9 472.1 L438.1 426.2 L440.6 438.3 L440.9 467.6 L443.2 490.1 L444.4 496.2 L445.4 550.3 L449.9 595.4 L450.4 571.4 L452.5 570.6 L454.4 544.3 L456.7 527.7 L457.9 451.8 L460.4 492.4 L461.4 457.1 L463.9 452.3 L465.7 482.6 L466.5 465.3 L468.4 465.8 L469.9 490.1 L472.0 493.9 L474.0 460.1 L475.9 445.0 L478.1 480.4 L482.3 440.2 L484.5 457.1 L486.5 457.8 L488.0 481.1 L490.5 479.6 L492.8 497.7 L495.8 541.3 L500.0 563.8 L503.9 537.5 L506.3 558.6 L508.6 546.5 L512.3 536.5 L514.1 606.2 L517.1 529.2 L518.4 530.0 L520.1 542.5 L521.4 527.0 L524.1 522.0 L526.2 557.1 L527.4 487.1 L530.1 481.9 L532.6 490.1 L534.1 666.8 L535.6 593.9 L536.7 559.3 L538.6 550.3 L539.1 520.2 L540.1 470.3 L542.1 499.2 L543.9 473.6 L546.6 470.6 L548.4 476.6 L550.2 454.8 L552.2 490.1 L554.1 476.6 L556.2 484.1 L558.2 537.5 L560.5 511.9 L561.2 460.1 L562.7 430.0 L563.0 405.5 L564.1 376.6 L565.9 406.7 L567.8 404.0 L569.8 395.0 L570.1 376.2 L572.3 387.4 L574.3 388.2 L577.6 410.8 L580.3 409.2 L580.6 364.1 L582.9 378.4 L584.8 379.9 L588.9 419.0 L589.9 433.3 L591.9 406.2 L594.1 405.5 L595.3 339.3 L596.8 359.6 L597.9 330.3 L600.1 340.8 L603.2 354.4 L606.2 361.1 L608.4 358.1 L609.9 346.1 L612.5 346.1 L615.2 300.2 L617.0 306.2 L617.4 279.9 L619.7 294.2 L622.0 279.2 L624.2 301.4 L627.2 276.2 L631.7 275.4 L634.0 291.2 L636.2 300.2 L638.5 282.2 L640.0 237.1 L642.3 262.6 L644.1 238.6 L647.1 255.1 L649.0 256.6 L652.0 252.6 L654.0 270.1 L655.8 259.6 L658.0 260.4 L660.0 239.3 L664.1 268.4 L666.0 252.4 L667.8 253.6 L672.0 248.3 L674.1 279.2 L676.1 245.3 L678.0 247.6 L680.1 242.0 L682.1 258.1 L684.7 255.1 L686.6 246.8 L688.1 228.8 L690.1 230.3 L692.2 245.3 L692.5 221.7 L694.1 222.8 L696.1 217.2 L697.9 222.0 L700.1 235.6 L703.2 221.3 L705.8 199.9 L708.8 216.5 L710.3 220.2 L711.8 218.7 L713.8 235.3 L715.9 229.2 L717.8 208.2 L720.1 221.7 L720.4 242.0 L722.3 244.3 L726.1 248.8 L727.9 242.5 L730.0 261.6 L732.9 247.3 L735.9 193.2 L738.1 199.9 L739.6 208.9 L740.4 211.2 L741.9 233.8 L743.8 219.0 L745.9 235.3 L747.9 232.3 L750.1 224.0 L752.0 220.2 L753.9 200.7 L756.2 211.2 L758.0 228.9 L759.9 213.5 L761.9 220.2 L764.0 220.2 L765.9 215.0 L766.4 224.0 L768.2 227.7 L770.0 232.6 L772.0 213.5 L774.2 214.2 L774.5 209.7 L776.9 204.4 L778.4 196.2 L779.9 166.8 L782.0 187.1 L784.0 205.2 L784.3 222.5 L785.9 201.4 L788.0 205.2 L790.0 220.2 L792.0 229.2 L793.8 239.0 L795.3 230.0 L797.1 232.3 L799.0 237.5 L801.0 243.5 L802.5 245.8 L804.3 257.8 L806.1 259.6 L808.5 258.6 L810.3 262.3 L812.6 275.9 L812.9 307.4 L814.8 312.7 L816.6 315.3 L817.8 348.1 L819.2 360.6 L821.8 390.7 L822.3 419.2 L824.1 444.8 L825.9 474.1 L827.8 416.2 L829.8 406.5 L830.4 433.5 L832.3 410.2 L833.8 388.4 L836.1 425.3 L838.4 420.8 L839.1 395.2 L839.9 223.2 L842.2 272.2 L843.1 235.3 L844.6 235.3 L845.6 280.4 L846.9 320.0 L848.1 338.8 L850.5 344.1 L850.8 401.9 L852.3 380.1 L853.8 446.3 L856.4 401.2 L857.9 336.2 L859.4 414.7 L860.1 400.4 L862.4 400.4 L864.4 426.0 L865.0 410.2 L866.9 410.2 L868.9 420.0 L869.2 488.4 L869.5 518.5 L871.4 526.0 L874.0 551.6 L875.9 530.5 L876.2 492.9 L877.0 492.2 L878.5 506.5 L880.0 463.6 L882.0 468.1 L884.2 468.1 L886.0 383.9 L888.0 401.9 L888.4 395.9 L890.5 395.9 L891.7 435.0 L894.0 428.3 L896.2 444.8 L896.5 473.4 L898.5 469.6 L900.5 482.4 L902.3 546.3 L904.1 549.3 L904.4 548.8 L904.7 582.9 L907.3 575.1 L910.0 558.6 L912.6 579.6 L914.4 591.6 L914.7 629.2 L915.9 657.8 L917.8 642.8 L920.8 636.0 L924.3 612.0 L924.6 641.3 L926.1 665.3 L927.9 662.3 L930.0 653.6 L932.1 677.4 L932.4 699.2 L934.4 692.4 L935.9 695.4 L938.4 697.7 L939.2 745.6 L942.6 762.2 L946.8 783.2 L948.6 810.3 L949.8 826.8 L952.8 819.3 L953.1 780.2 L954.3 747.4 L956.8 762.2 L960.0 783.5 L961.4 730.6 L963.6 715.6 L965.9 717.8 L967.9 695.4 L970.1 674.7 L972.0 710.5 L973.5 734.5 L976.0 738.3 L978.0 736.0 L979.9 717.2 L982.0 744.3 L984.7 713.5 L985.9 705.6 L988.0 710.5 L988.4 682.6 L990.5 682.2 L992.3 680.4 L994.1 667.1 L996.0 668.0 L998.0 673.6 L1000.1 649.5 L1002.0 671.4 L1004.0 663.8 L1006.1 669.1 L1008.0 680.4 L1010.0 683.4 L1012.1 700.7 L1013.6 680.4 L1016.0 683.1 L1016.3 667.6 L1018.1 670.6 L1020.1 678.1 L1022.3 678.1 L1025.3 650.3 L1028.0 632.6 L1030.2 641.3 L1031.3 668.4 L1034.1 639.5 L1034.4 680.4 L1035.6 705.2 L1038.1 700.7 L1040.1 732.3 L1041.9 656.3 L1044.1 651.8 L1044.4 646.5 L1046.4 649.5 L1047.6 615.7 L1049.7 638.3 L1052.1 606.4 L1054.2 665.3 L1056.2 641.3 L1058.1 662.3 L1060.2 651.0 L1062.6 671.4 L1062.9 683.4 L1064.1 687.1 L1065.9 721.3 L1068.2 687.9 L1069.7 716.5 L1072.0 755.6 L1072.7 650.3 L1074.2 634.5 L1076.5 643.5 L1078.3 665.3 L1080.2 662.3 L1082.2 652.1 L1082.5 706.7 L1083.9 765.2 L1086.0 828.4 L1089.2 780.2 L1092.2 773.5 L1094.4 814.8 L1096.2 832.9 L1097.4 765.2 L1097.9 701.3 L1100.0 693.0 L1100.3 682.6 L1104.3 667.6 L1106.5 695.4 L1108.8 725.5 L1111.0 739.6 L1111.3 750.1 L1111.6 762.2 L1113.7 784.7 L1115.5 753.2 L1117.3 758.4 L1118.2 790.8 L1120.9 776.5 L1123.0 775.7 L1123.9 713.3 L1126.3 736.9 L1128.3 720.1 L1128.6 691.5 L1128.9 693.4 L1129.5 684.4 L1131.8 677.6 L1133.3 693.4 L1134.4 680.6 L1135.9 680.6 L1136.2 706.2 L1137.8 712.9 L1139.8 678.4 L1141.6 709.9 L1141.9 697.9 L1144.3 697.9 L1146.1 723.5 L1147.9 694.9 L1150.0 690.8 L1151.8 702.4 L1152.9 711.4 L1154.8 718.2 L1156.2 746.4 L1157.0 772.0 L1158.1 789.2 L1160.0 772.7 L1161.1 757.7 L1162.6 755.4 L1164.0 779.9 L1165.0 778.7 L1166.0 728.4 L1167.9 732.1 L1170.0 757.7 L1171.0 756.9 L1173.2 720.1 L1175.3 705.0 L1175.6 678.4 L1175.9 652.0 L1178.0 663.3 L1180.4 661.0 L1181.9 658.8 L1184.0 667.8 L1184.3 631.7 L1185.9 636.2 L1187.9 644.5 L1189.7 628.7 L1192.0 646.5 L1193.5 615.2 L1195.7 567.1 L1198.0 581.4 L1199.9 572.3 L1202.0 570.8 L1204.0 586.6 L1205.5 607.7 L1207.7 613.7 L1210.0 591.9 L1212.0 647.5 L1214.5 646.8 L1217.1 624.2 L1220.5 585.1 L1224.0 558.4 L1225.8 585.1 L1227.6 583.6 L1229.7 564.1 L1230.0 594.4 L1232.1 574.6 L1233.6 561.0 L1236.3 559.2 L1238.1 577.6 L1240.1 573.1 L1242.0 560.8 L1244.1 566.3 L1246.1 571.6 L1248.0 588.1 L1249.8 557.7 L1252.1 568.6 L1254.1 582.4 L1258.1 549.0 L1260.4 570.1 L1262.2 583.6 L1263.7 600.9 L1265.6 598.6 L1266.1 626.0 L1267.9 579.9 L1269.7 587.8 L1272.1 609.5 L1274.2 598.6 L1276.2 564.1 L1278.1 583.6 L1279.9 601.6 L1282.6 602.4 L1284.1 606.2 L1285.6 613.4 L1288.2 605.4 L1289.7 636.2 L1292.0 631.7 L1293.8 631.0 L1294.2 649.5 L1297.2 624.2 L1300.1 600.1 L1302.2 604.7 L1304.0 624.2 L1306.2 635.9 L1308.5 622.7 L1312.3 585.1 L1314.2 519.4 L1317.5 567.1 L1319.0 544.5 L1320.5 546.8 L1322.3 630.2 L1323.5 570.1 L1324.0 529.1 L1326.8 485.5 L1328.3 450.1 L1330.3 447.9 L1332.1 470.4 L1333.6 435.9 L1335.9 443.4 L1337.4 460.7 L1339.3 428.4 L1342.3 460.7 L1342.6 428.4 L1343.4 405.8 L1345.9 418.6 L1347.1 347.1 L1350.2 346.4 L1350.5 324.6 L1352.0 315.6 L1353.9 341.9 L1355.9 343.4 L1358.0 330.3 L1359.9 345.3 L1362.2 327.3 L1364.0 338.1 L1365.9 368.2 L1368.2 354.7 L1369.7 407.3 L1372.0 401.3 L1373.9 376.9 L1376.5 376.5 L1378.4 390.4 L1379.0 383.2 L1380.5 380.2 L1381.4 354.7 L1384.0 347.9 L1385.9 337.4 L1388.0 347.1 L1390.0 359.9 L1392.0 335.9 L1394.1 332.9 L1395.6 311.1 L1398.0 302.0 L1400.1 320.1 L1402.0 325.3 L1404.0 317.1 L1405.8 303.2 L1408.0 316.3 L1410.0 314.8 L1411.8 341.1 L1414.1 313.3 L1415.6 362.2 L1417.8 374.5 L1420.1 350.1 L1422.0 348.4 L1424.1 365.5 L1426.1 351.4 L1428.0 350.9 L1430.2 347.9 L1431.3 384.7 L1434.1 372.4 L1435.6 396.0 L1438.1 381.4 L1438.9 413.3 L1441.6 425.3 L1443.7 425.3 L1444.0 401.3 L1446.7 409.1 L1450.2 408.8 L1451.2 449.4 L1453.2 459.9 L1457.7 475.7 L1460.7 475.3 L1462.6 462.9 L1462.9 428.4 L1463.7 415.6 L1465.9 423.5 L1469.7 407.3 L1472.0 397.1 L1472.7 412.6 L1476.2 418.6 L1477.2 406.5 L1480.2 405.5 L1481.7 434.4 L1484.0 439.2 L1488.5 430.6 L1490.0 414.1 L1492.3 411.8 L1495.7 435.1 L1498.3 410.3 L1499.8 444.1 L1502.0 446.4 L1504.3 462.9 L1506.1 524.6 L1506.8 485.5 L1508.3 487.0 L1509.8 502.0 L1512.3 484.0 L1514.1 457.2 L1516.3 456.2 L1518.3 456.2 L1518.9 470.4 L1523.8 499.0 L1526.1 452.4 L1527.9 441.1 L1529.8 467.4 L1531.8 462.2 L1533.8 451.6 L1536.3 475.4 L1537.1 456.9 L1540.1 464.4 L1541.9 432.1 L1544.3 420.1 L1546.1 430.6 L1548.3 432.9 L1551.8 405.3 L1553.9 432.4 L1554.4 413.8 L1556.6 414.1 L1557.8 436.6 L1558.4 429.9 L1560.5 429.4 L1562.6 448.6 L1564.4 456.2 L1564.7 486.2 L1566.4 485.0 L1568.7 489.2 L1570.2 517.8 L1571.7 528.4 L1573.9 523.1 L1574.2 543.1 L1578.0 539.6 L1580.4 549.4 L1582.2 553.9 L1583.7 545.6 L1586.4 543.4 L1588.5 547.9 L1590.0 570.5 L1592.0 574.7 L1594.2 564.4 L1596.5 574.2 L1598.0 602.0 L1599.9 608.0 L1602.0 623.8 L1604.4 622.3 L1604.7 624.1 L1606.6 640.1 L1608.6 665.2 L1610.1 700.2 L1611.9 736.3 L1614.1 720.3 L1615.6 695.2 L1617.6 681.2 L1620.1 680.2 L1620.4 665.2 L1621.9 648.1 L1623.6 658.1 L1625.6 656.1 L1627.7 644.1 L1628.0 618.0 L1630.1 635.1 L1631.6 625.1 L1633.3 626.1 L1636.3 618.6 L1638.6 620.1 L1638.9 602.0 L1642.0 585.2 L1644.1 596.8 L1646.1 588.5 L1648.0 594.2 L1648.3 564.4 L1650.2 553.9 L1652.1 538.9 L1654.1 506.5 L1656.2 506.5 L1658.1 513.3 L1659.6 526.8 L1661.9 514.8 L1664.1 535.6 L1666.4 519.3 L1666.7 472.4 L1667.9 473.5 L1670.6 477.2 L1672.4 495.3 L1674.7 519.3 L1676.6 520.8 L1677.7 565.9 L1679.9 565.2 L1682.2 553.9 L1684.1 571.2 L1686.2 561.4 L1690.2 530.6 L1692.3 526.5 L1694.2 534.4 L1694.5 513.3 L1696.5 500.5 L1698.3 497.5 L1700.2 458.4 L1702.2 471.2 L1704.0 484.7 L1706.2 480.2 L1708.2 486.2 L1710.0 478.7 L1712.3 471.2 L1712.6 503.5 L1714.2 493.8 L1716.3 493.0 L1718.3 499.8 L1722.0 469.4 L1724.3 490.8 L1726.5 505.0 L1728.3 493.8 L1730.3 488.5 L1732.6 497.5 L1734.4 508.8 L1736.3 515.6 L1738.3 493.8 L1740.1 487.7 L1742.3 508.1 L1746.1 489.2 L1747.9 482.9 L1749.1 500.5 L1751.8 473.8 L1754.1 484.4 L1755.9 470.8 L1757.8 491.9 L1760.1 493.4 L1761.9 481.4 L1764.3 493.4 L1766.1 484.8 L1767.6 515.2 L1767.9 537.0 L1770.3 530.2 L1771.8 543.8 L1773.9 564.1 L1775.9 555.0 L1777.8 604.7 L1779.9 568.6 L1781.1 605.4 L1783.4 643.0 L1785.8 655.8 L1786.1 600.9 L1788.7 606.2 L1790.9 567.8 L1792.4 567.5 L1794.4 578.4 L1796.2 569.3 L1796.5 512.2 L1798.0 472.3 L1799.9 503.2 L1801.9 545.3 L1803.4 590.4 L1804.4 617.4 L1806.4 634.0 L1806.7 680.0 L1807.0 707.6 L1807.6 723.4 L1810.3 716.9 L1811.8 767.0 L1813.9 767.7 L1814.2 794.8 L1815.9 790.3 L1817.8 800.1 L1819.9 776.8 L1821.9 823.1 L1824.1 824.1 L1825.6 852.7 L1827.9 855.0 L1829.8 842.2 L1831.7 876.0 L1832.0 852.7 L1834.4 853.2 L1835.9 901.6 L1838.0 906.1 L1842.1 943.7 L1844.1 891.3 L1845.9 925.1 L1848.1 956.7 L1850.0 910.2 L1852.0 947.7 L1852.9 920.6 L1854.5 920.0 L1856.2 950.5 L1858.3 951.6 L1859.8 921.5 L1860.2 958.9 L1860.5 993.9 L1861.7 1018.7 L1864.1 1007.4 L1865.8 990.0 L1868.1 1008.6 L1870.0 1024.9 L1871.1 1008.6 L1872.6 1010.8 L1873.7 983.2 L1876.0 992.2 L1877.4 982.6 L1878.2 978.7 L1880.5 1001.8 L1881.6 1035.6 L1883.9 1025.5 L1885.0 1026.6 L1887.8 1048.6 L1892.1 1011.4 L1895.7 1044.7 L1898.9 1045.2 L1899.7 1015.3 L1901.3 970.2 L1903.0 931.3 L1905.9 927.4 L1907.9 945.4 L1910.4 928.5 L1911.5 902.6 L1912.1 880.0 L1914.1 864.0 L1915.6 847.4 L1918.1 861.0 L1920.1 845.9 L1921.6 748.2 L1923.7 806.1 L1925.6 760.2 L1927.6 747.0 L1929.7 768.5 L1932.1 747.9 L1934.2 748.2 L1936.2 784.3 L1938.1 810.6 L1940.2 802.3 L1942.2 817.4 L1944.1 770.0 L1946.2 788.8 L1948.2 779.0 L1950.5 777.5 L1954.2 764.7 L1955.3 700.1 L1956.2 673.3 L1957.7 687.8 L1960.3 688.6 L1962.3 681.0 L1963.3 694.6 L1965.9 673.1 L1967.8 694.6 L1970.1 687.8 L1971.6 681.8 L1972.0 656.2 L1976.1 700.6 L1978.3 689.3 L1979.8 656.2 L1981.8 629.9 L1984.8 627.7 L1987.8 618.4 L1990.4 625.4 L1990.7 671.3 L1991.9 678.0 L1994.1 659.2 L1995.9 633.7 L1997.9 641.2 L1999.8 625.0 L2002.0 654.0 L2003.9 620.9 L2006.2 623.2 L2009.9 620.9 L2010.2 601.8 L2011.9 602.9 L2014.0 600.6 L2015.9 624.7 L2017.9 617.1 L2020.0 641.2 L2022.4 640.0 L2024.2 621.6 L2028.0 637.9 L2028.7 620.1 L2029.9 608.9 L2032.0 609.6 L2034.0 605.1 L2035.9 616.4 L2037.7 598.8 L2040.0 595.8 L2042.0 630.4 L2044.1 598.8 L2046.0 617.9 L2048.0 611.9 L2050.1 626.2 L2052.5 629.2 L2055.0 638.2 L2057.0 650.2 L2058.1 675.8 L2060.0 680.3 L2063.6 669.0 L2066.3 671.3 L2067.8 644.2 L2072.0 588.6 L2076.1 599.1 L2078.3 613.4 L2081.7 629.9 L2084.1 629.5 L2085.9 632.2 L2088.1 626.9 L2090.1 617.9 L2092.2 636.7 L2094.6 626.9 L2098.2 634.4 L2100.2 653.2 L2102.1 652.5 L2102.4 661.5 L2104.2 662.6 L2105.7 692.3 L2108.1 686.3 L2109.9 694.1 L2112.2 672.8 L2115.9 645.4 L2118.2 652.5 L2120.2 671.6 L2120.8 651.7 L2122.3 648.0 L2123.8 656.2 L2126.2 658.5" stroke="url(#lg)" stroke-width="4.2" stroke-linejoin="round" stroke-linecap="round" fill="none" clip-path="url(#cp)"/>
<circle cx="2125.4" cy="658.5" r="4.7" fill="#7753f1"/>
<text x="20" y="44" font-size="24" fill="#0f0f0f" stroke="#0f0f0f" stroke-width="0.35" textLength="750" lengthAdjust="spacing">ETHNews created with TradingView.com, Nov 20, 2025 07:36 UTC</text>
<text x="2169.4" y="154.9" font-size="24" fill="#0f0f0f" stroke="#0f0f0f" stroke-width="0.35" textLength="102" lengthAdjust="spacing">3,225.00</text>
<text x="2169.4" y="218.4" font-size="24" fill="#0f0f0f" stroke="#0f0f0f" stroke-width="0.35" textLength="102" lengthAdjust="spacing">3,200.00</text>
<text x="2169.4" y="281.8" font-size="24" fill="#0f0f0f" stroke="#0f0f0f" stroke-width="0.35" textLength="102" lengthAdjust="spacing">3,175.00</text>
<text x="2169.4" y="345.3" font-size="24" fill="#0f0f0f" stroke="#0f0f0f" stroke-width="0.35" textLength="102" lengthAdjust="spacing">3,150.00</text>
<text x="2169.4" y="408.7" font-size="24" fill="#0f0f0f" stroke="#0f0f0f" stroke-width="0.35" textLength="102" lengthAdjust="spacing">3,125.00</text>
<text x="2169.4" y="472.2" font-size="24" fill="#0f0f0f" stroke="#0f0f0f" stroke-width="0.35" textLength="102" lengthAdjust="spacing">3,100.00</text>
<text x="2169.4" y="535.6" font-size="24" fill="#0f0f0f" stroke="#0f0f0f" stroke-width="0.35" textLength="102" lengthAdjust="spacing">3,075.00</text>
<text x="2169.4" y="599.1" font-size="24" fill="#0f0f0f" stroke="#0f0f0f" stroke-width="0.35" textLength="102" lengthAdjust="spacing">3,050.00</text>
<text x="2169.4" y="662.6" font-size="24" fill="#0f0f0f" stroke="#0f0f0f" stroke-width="0.35" textLength="102" lengthAdjust="spacing">3,025.00</text>
<text x="2169.4" y="726.0" font-size="24" fill="#0f0f0f" stroke="#0f0f0f" stroke-width="0.35" textLength="102" lengthAdjust="spacing">3,000.00</text>
<text x="2169.4" y="789.5" font-size="24" fill="#0f0f0f" stroke="#0f0f0f" stroke-width="0.35" textLength="102" lengthAdjust="spacing">2,975.00</text>
<text x="2169.4" y="852.9" font-size="24" fill="#0f0f0f" stroke="#0f0f0f" stroke-width="0.35" textLength="102" lengthAdjust="spacing">2,950.00</text>
<text x="2169.4" y="916.4" font-size="24" fill="#0f0f0f" stroke="#0f0f0f" stroke-width="0.35" textLength="102" lengthAdjust="spacing">2,925.00</text>
<text x="2169.4" y="979.9" font-size="24" fill="#0f0f0f" stroke="#0f0f0f" stroke-width="0.35" textLength="102" lengthAdjust="spacing">2,900.00</text>
<text x="2169.4" y="1043.3" font-size="24" fill="#0f0f0f" stroke="#0f0f0f" stroke-width="0.35" textLength="102" lengthAdjust="spacing">2,875.00</text>
<text x="2169.4" y="1106.8" font-size="24" fill="#0f0f0f" stroke="#0f0f0f" stroke-width="0.35" textLength="102" lengthAdjust="spacing">2,850.00</text>
<text x="2169.4" y="1170.2" font-size="24" fill="#0f0f0f" stroke="#0f0f0f" stroke-width="0.35" textLength="102" lengthAdjust="spacing">2,825.00</text>
<text x="2169.4" y="1233.7" font-size="24" fill="#0f0f0f" stroke="#0f0f0f" stroke-width="0.35" textLength="102" lengthAdjust="spacing">2,800.00</text>
<text x="2169.4" y="1297.1" font-size="24" fill="#0f0f0f" stroke="#0f0f0f" stroke-width="0.35" textLength="102" lengthAdjust="spacing">2,775.00</text>
<text x="2169.4" y="1360.6" font-size="24" fill="#0f0f0f" stroke="#0f0f0f" stroke-width="0.35" textLength="102" lengthAdjust="spacing">2,750.00</text>
<text x="2169.4" y="1424.1" font-size="24" fill="#0f0f0f" stroke="#0f0f0f" stroke-width="0.35" textLength="102" lengthAdjust="spacing">2,725.00</text>
<rect x="2158.5" y="62.5" width="127" height="51" rx="9" fill="#fff" stroke="#eeeeee" stroke-width="1.5"/>
<text x="2177" y="96.2" font-size="24" fill="#0f0f0f" stroke="#0f0f0f" stroke-width="0.35" textLength="47.6" lengthAdjust="spacing">USD</text>
<path d="M2152 642H2279a5 5 0 0 1 5 5V699a5 5 0 0 1-5 5H2152Z" fill="#7753f1"/>
<text x="2169.4" y="665" font-size="24" fill="#fff" stroke="#fff" stroke-width="0.35" textLength="102" lengthAdjust="spacing">3,024.04</text>
<text x="2169.4" y="693" font-size="24" fill="#e4dcfd" stroke="#e4dcfd" stroke-width="0.35" textLength="65" lengthAdjust="spacing">03:30</text>
<path d="M2152 1394H2220a4 4 0 0 1 4 4V1424a4 4 0 0 1-4 4H2152Z" fill="#ef5350"/>
<text x="2170.3" y="1419.5" font-size="24" fill="#fff" stroke="#fff" stroke-width="0.35" textLength="42" lengthAdjust="spacing">133</text>
<text x="79.0" y="1466.2" font-size="24" fill="#0f0f0f" stroke="#0f0f0f" stroke-width="0.35" text-anchor="middle">16</text>
<text x="164.9" y="1466.2" font-size="24" fill="#0f0f0f" stroke="#0f0f0f" stroke-width="0.35" textLength="65.3" lengthAdjust="spacing">06:00</text>
<text x="283.3" y="1466.2" font-size="24" fill="#0f0f0f" stroke="#0f0f0f" stroke-width="0.35" textLength="65.3" lengthAdjust="spacing">12:00</text>
<text x="401.8" y="1466.2" font-size="24" fill="#0f0f0f" stroke="#0f0f0f" stroke-width="0.35" textLength="65.3" lengthAdjust="spacing">18:00</text>
<text x="552.8" y="1466.2" font-size="24" fill="#0f0f0f" text-anchor="middle" font-weight="bold">17</text>
<text x="638.7" y="1466.2" font-size="24" fill="#0f0f0f" stroke="#0f0f0f" stroke-width="0.35" textLength="65.3" lengthAdjust="spacing">06:00</text>
<text x="757.2" y="1466.2" font-size="24" fill="#0f0f0f" stroke="#0f0f0f" stroke-width="0.35" textLength="65.3" lengthAdjust="spacing">12:00</text>
<text x="875.6" y="1466.2" font-size="24" fill="#0f0f0f" stroke="#0f0f0f" stroke-width="0.35" textLength="65.3" lengthAdjust="spacing">18:00</text>
<text x="1026.7" y="1466.2" font-size="24" fill="#0f0f0f" stroke="#0f0f0f" stroke-width="0.35" text-anchor="middle">18</text>
<text x="1112.5" y="1466.2" font-size="24" fill="#0f0f0f" stroke="#0f0f0f" stroke-width="0.35" textLength="65.3" lengthAdjust="spacing">06:00</text>
<text x="1231.0" y="1466.2" font-size="24" fill="#0f0f0f" stroke="#0f0f0f" stroke-width="0.35" textLength="65.3" lengthAdjust="spacing">12:00</text>
<text x="1349.5" y="1466.2" font-size="24" fill="#0f0f0f" stroke="#0f0f0f" stroke-width="0.35" textLength="65.3" lengthAdjust="spacing">18:00</text>
<text x="1500.5" y="1466.2" font-size="24" fill="#0f0f0f" stroke="#0f0f0f" stroke-width="0.35" text-anchor="middle">19</text>
<text x="1586.4" y="1466.2" font-size="24" fill="#0f0f0f" stroke="#0f0f0f" stroke-width="0.35" textLength="65.3" lengthAdjust="spacing">06:00</text>
<text x="1704.8" y="1466.2" font-size="24" fill="#0f0f0f" stroke="#0f0f0f" stroke-width="0.35" textLength="65.3" lengthAdjust="spacing">12:00</text>
<text x="1823.3" y="1466.2" font-size="24" fill="#0f0f0f" stroke="#0f0f0f" stroke-width="0.35" textLength="65.3" lengthAdjust="spacing">18:00</text>
<text x="1974.4" y="1466.2" font-size="24" fill="#0f0f0f" stroke="#0f0f0f" stroke-width="0.35" text-anchor="middle">20</text>
<text x="2060.2" y="1466.2" font-size="24" fill="#0f0f0f" stroke="#0f0f0f" stroke-width="0.35" textLength="65.3" lengthAdjust="spacing">06:00</text>
<g>
<circle cx="2124.4" cy="1402.8" r="22" fill="#fff"/>
<path d="M2106.4 1397.0A18.9 18.9 0 0 1 2130.1 1384.8M2142.4 1397.0A18.9 18.9 0 0 1 2109.9 1414.9" fill="none" stroke="#9322ac" stroke-width="3"/>
<path d="M2128.5 1392.1L2130 1393.7L2124.7 1401.8L2132.4 1401.8L2132.6 1402.8L2118.6 1413.9L2117.1 1412.5L2123.2 1404L2115.5 1404L2115.3 1403.1Z" fill="#9322ac"/>
<circle cx="2137.9" cy="1389.1" r="7.2" fill="#fff"/>
<circle cx="2137.9" cy="1389.1" r="5" fill="#f23645"/>
<path d="M2102.9 1399.7C2103.9 1405.0 2107.8 1408.9 2113.1 1409.9C2107.8 1410.9 2103.9 1414.8000000000002 2102.9 1420.1000000000001C2101.9 1414.8000000000002 2098.0 1410.9 2092.7000000000003 1409.9C2098.0 1408.9 2101.9 1405.0 2102.9 1399.7Z" fill="#7c4dff" stroke="#fff" stroke-width="3.5" stroke-linejoin="round" paint-order="stroke"/>
</g>
<g fill="#111"><path d="M23.9 1528.3H47.7V1558.1H35.6V1540.4H23.9Z"/><circle cx="57.8" cy="1534.6" r="6.2"/><path d="M69.5 1528.3H83.9L71.3 1558.1H57Z"/></g>
<text x="98" y="1558" font-size="41" fill="#111" textLength="241.3" lengthAdjust="spacing" font-weight="bold">TradingView</text>
</svg></body></html>
